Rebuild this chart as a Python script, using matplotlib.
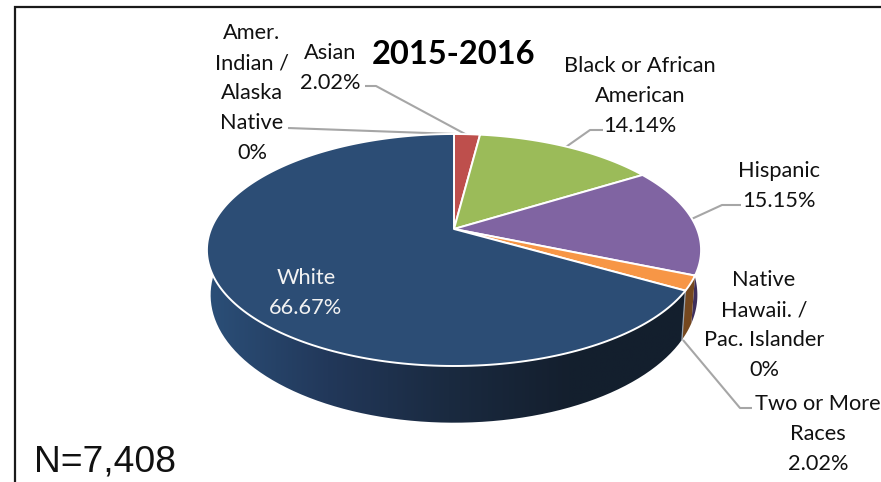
import numpy as np
import matplotlib
matplotlib.use('Agg')
import matplotlib.pyplot as plt
from matplotlib.colors import LinearSegmentedColormap
from matplotlib.patches import Polygon

categories = ['Amer. Indian / Alaska Native', 'Asian', 'Black or African American', 'Hispanic',
              'Native Hawaii. / Pac. Islander', 'Two or More Races', 'White']
shares = [0, 2.02, 14.14, 15.15, 0, 2.02, 66.67]
top_colors = ['#4F81BD', '#BE4F4C', '#9BBB59', '#8064A2', '#4BACC6', '#F79646', '#2C4D75']
side_colors = ['#2A4A70', '#6E2C2A', '#5A6E32', '#3E2F5C', '#2A6070', '#75481F', '#1B2B40']

# perspective of the pie, in image pixels
CX, CY = 454, 229
BX, BY, K = 243, 112.2, 0.181


def top_xy(theta):
    u, v = np.sin(theta), np.cos(theta)
    d = 1 + K * v
    return CX + BX * u / d, CY - BY * v / d


def bottom_xy(theta):
    x, y = top_xy(theta)
    return CX + (x - CX) * 0.985, CY + 43 + (y - CY) * 1.10


def side_poly(a, b):
    t = np.linspace(a, b, 120)
    x1, y1 = top_xy(t)
    x2, y2 = bottom_xy(t[::-1])
    return np.column_stack([np.r_[x1, x2], np.r_[y1, y2]])


fig = plt.figure(figsize=(8.81, 4.82), dpi=100)
ax = fig.add_axes([0, 0, 1, 1])
ax.set_xlim(0, 881)
ax.set_ylim(482, 0)
ax.axis('off')

ends = np.cumsum(shares) / 100 * 2 * np.pi
starts = ends - np.array(shares) / 100 * 2 * np.pi

# sides first, back to front
purple = categories.index('Hispanic')
other = categories.index('Two or More Races')
white = categories.index('White')

ax.add_patch(Polygon(side_poly(np.pi / 2, ends[purple]), fc=side_colors[purple], ec='none', zorder=1))
ax.add_patch(Polygon(side_poly(starts[other], ends[other]), fc=side_colors[other], ec='none', zorder=2))

white_poly = Polygon(side_poly(starts[white], ends[white]), fc='none', ec='none', zorder=2)
ax.add_patch(white_poly)
side_cmap = LinearSegmentedColormap.from_list('side', ['#2B4F78', '#22385A', '#1A2A40', '#141F2E', '#131F2D'])
grad = ax.imshow(np.linspace(0, 1, 256).reshape(1, -1), cmap=side_cmap, aspect='auto',
                 extent=[207, 690, 430, 240], zorder=2)
grad.set_clip_path(white_poly)
ax.set_xlim(0, 881)
ax.set_ylim(482, 0)

x1, y1 = top_xy(starts[white])
x2, y2 = bottom_xy(starts[white])
ax.plot([x1, x2], [y1, y2], color='#9AA3AD', lw=0.9, zorder=3)

# top slices
for i, share in enumerate(shares):
    if share == 0:
        continue
    t = np.linspace(starts[i], ends[i], 200)
    x, y = top_xy(t)
    pts = np.column_stack([np.r_[CX, x], np.r_[CY, y]])
    ax.add_patch(Polygon(pts, fc=top_colors[i], ec='white', lw=1.4, joinstyle='round', zorder=4))

# leader lines
grey = '#A6A6A6'
leaders = [
    ([288, 455], [128, 134]),
    ([365, 376, 467], [86, 86, 135]),
    ([603, 590, 563], [130, 130, 149]),
    ([741, 722, 672], [205, 205, 228]),
    ([752, 740, 683], [408, 408, 340]),
]
for lx, ly in leaders:
    ax.plot(lx, ly, color=grey, lw=1.5, zorder=3, solid_capstyle='butt')

# labels
font = dict(family='Lato', fontsize=15.7, color='#111111', ha='center', va='center', ma='center',
            linespacing=1.62, zorder=6)
ax.text(252, 93, 'Amer.\nIndian /\nAlaska\nNative\n0%', **font)
ax.text(330, 68, 'Asian\n2.02%', **font)
ax.text(640, 96, 'Black or African\nAmerican\n14.14%', **font)
ax.text(779, 186, 'Hispanic\n15.15%', **font)
ax.text(764, 325, 'Native\nHawaii. /\nPac. Islander\n0%', **font)
ax.text(818, 434, 'Two or More\nRaces\n2.02%', **font)
font['color'] = '#F2F2F2'
ax.text(306, 293, 'White\n66.67%', **font)

ax.text(454, 54, '2015-2016', family='Lato', fontsize=23.5, fontweight='bold', color='black',
        ha='center', va='center', zorder=6)
ax.text(34, 462, 'N=7,408', family='Liberation Sans', fontsize=26.8, color='#111111',
        ha='left', va='center', zorder=6)

# chart frame
ax.plot([15, 15, 881], [482, 7, 7], color='#1A1A1A', lw=1.6, zorder=7, solid_joinstyle='miter')

fig.savefig('out.png', dpi=100)
